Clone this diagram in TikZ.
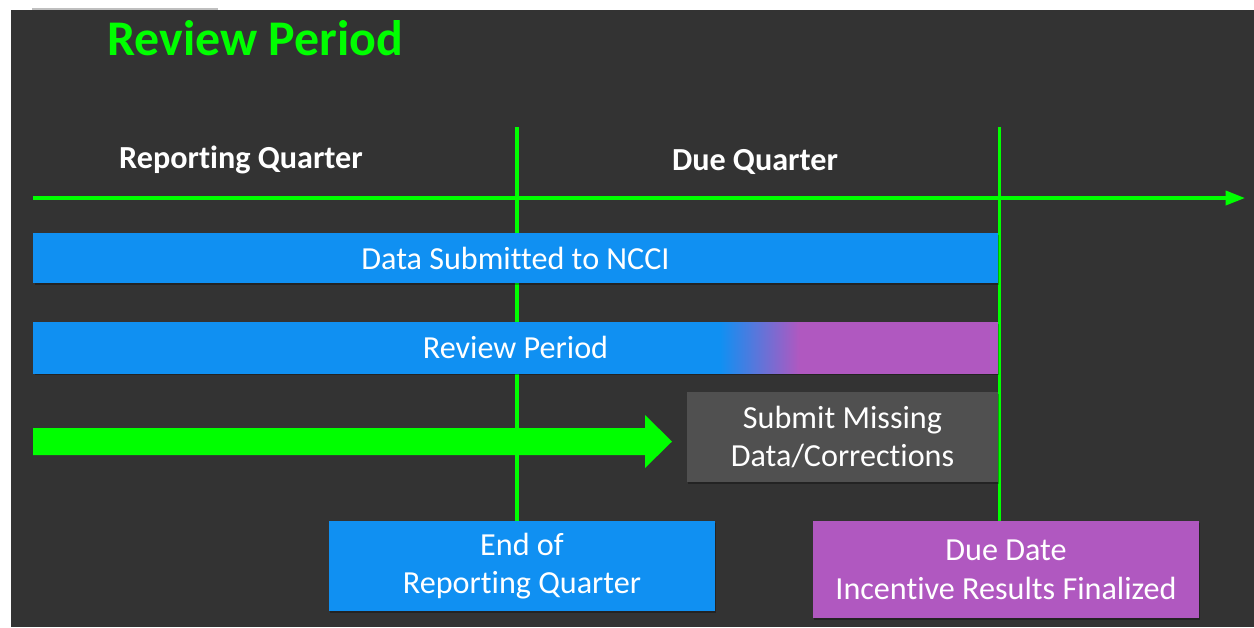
\documentclass[tikz,border=0pt]{standalone}
\usepackage{fontspec}
\setmainfont{Carlito}[Ligatures={NoCommon}]
\usepackage{tikz}
\usetikzlibrary{positioning,arrows.meta}

\definecolor{bgdark}{HTML}{333333}
\definecolor{barblue}{HTML}{1090F2}
\definecolor{barpurple}{HTML}{B058C0}
\definecolor{boxgray}{HTML}{505050}
\definecolor{linegreen}{HTML}{00FF00}

% blue to purple across the review bar
\pgfdeclarehorizontalshading{reviewshade}{100bp}{color(0bp)=(barblue); color(60.6bp)=(barblue); color(64.7bp)=(barpurple); color(100bp)=(barpurple)}

\tikzset{
  shadowed/.style={preaction={fill=black, opacity=0.3, transform canvas={shift={(0.8pt,-1.4pt)}}}},
  bar/.style={shadowed, fill=barblue, minimum width=19.3cm, minimum height=1cm, inner sep=0pt,
    text=white, font=\fontsize{18.3}{22}\selectfont},
  infobox/.style={shadowed, minimum width=7.72cm, minimum height=1.8cm, inner sep=0pt, align=center,
    text=white, font=\fontsize{18.3}{22}\selectfont},
  header/.style={text=white, font=\bfseries\fontsize{18.3}{22}\selectfont},
  greenline/.style={draw=linegreen, line width=1.9pt},
}

\begin{document}
\begin{tikzpicture}[x=0.02cm, y=-0.02cm]
            \useasboundingbox (0,0) rectangle (1254,627);
            \fill[white] (0,0) rectangle (1254,627);
            \fill[bgdark] (11,10) rectangle (1254,627);
            \draw[gray!50, line width=0.6pt] (32,9) -- (218,9);
            %
            \node[anchor=base west, inner sep=0pt, text=linegreen, font=\bfseries\fontsize{28.4}{32}\selectfont] (title) at (107,55) {Review Period};
            \node[header] (repq) at (241,160) {Reporting Quarter};
            \node[header] (dueq) at (755,162) {Due Quarter};
            %
            \node[infobox, fill=barblue] (endq) at (522,566) {End of\\Reporting Quarter};
            \node[infobox, fill=barpurple, minimum height=1.94cm] (duedate) at (1006,569.5) {Due Date\\Incentive Results Finalized};
            %
            \coordinate (axisstart) at (33,198);
            \coordinate (axisend) at (1245,198);
            \coordinate (endtop) at (517,127);
            \coordinate (duetop) at (999.5,127);
            %
            \draw[greenline] (endtop) -- (endq.north -| endtop);
            \draw[greenline] (duetop) -- (duedate.north -| duetop);
            \draw[greenline, -{Triangle[length=11pt, width=8pt]}] (axisstart) -- (axisend);
            %
            \node[bar] (datasub) at (515.5,258) {Data Submitted to NCCI};
            \node[bar, minimum height=1.02cm, shading=reviewshade] (review) at (515.5,347.5) {Review Period};
            %
            \node[infobox, fill=boxgray, minimum width=6.22cm] (missing) at (842.5,437) {Submit Missing\\Data/Corrections};
            %
            \fill[linegreen] (33,428) -- (645,428) -- (645,415) -- (672,441.5) -- (645,468) -- (645,455) -- (33,455) -- cycle;
        \end{tikzpicture}
\end{document}
